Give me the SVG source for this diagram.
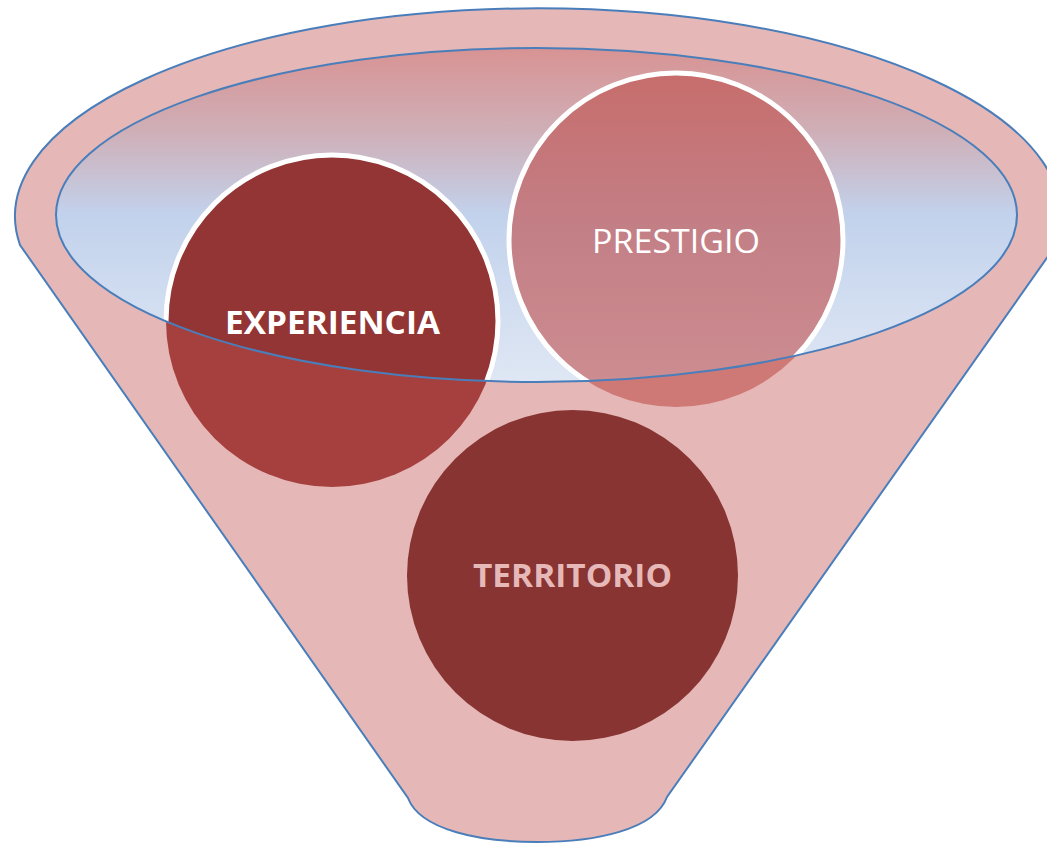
<svg xmlns="http://www.w3.org/2000/svg" width="1047" height="845" viewBox="0 0 1047 845">
<style>
.outline{stroke:#4A7EBB;stroke-width:2;}
.lbl{font-family:"Open Sans","Liberation Sans",sans-serif;text-anchor:middle;}
</style>
<defs>
<linearGradient id="liquid" gradientUnits="userSpaceOnUse" x1="0" y1="48" x2="0" y2="382">
<stop offset="0" stop-color="#D89393"/>
<stop offset="0.25" stop-color="#CFAFB7"/>
<stop offset="0.5" stop-color="#C2D2EC"/>
<stop offset="1" stop-color="#DFE7F4"/>
</linearGradient>
<linearGradient id="prestTop" gradientUnits="userSpaceOnUse" x1="0" y1="72" x2="0" y2="380">
<stop offset="0" stop-color="#C76D6C"/>
<stop offset="0.5" stop-color="#C37F86"/>
<stop offset="1" stop-color="#CC8C90"/>
</linearGradient>
<clipPath id="inner">
<ellipse cx="536.5" cy="215" rx="480.5" ry="167"/>
</clipPath>
</defs>
<g id="funnel">
<path class="outline" fill="#E5B8B7" d="M20,245 A523,208 0 1 1 1056,245 L667,797 C655,830 595,842 537,842 C480,842 420,830 408,798 Z"/>
<ellipse cx="536.5" cy="215" rx="480.5" ry="167" fill="url(#liquid)"/>
</g>
<g id="experiencia">
<circle cx="332" cy="321" r="166" fill="#A6403E"/>
<g clip-path="url(#inner)">
<circle cx="332" cy="321" r="166" fill="#943535" stroke="#FFFFFF" stroke-width="5"/>
</g>
</g>
<g id="prestigio">
<circle cx="676" cy="240" r="167" fill="#CF7977"/>
<g clip-path="url(#inner)">
<circle cx="676" cy="240" r="167" fill="url(#prestTop)" stroke="#FFFFFF" stroke-width="5"/>
</g>
</g>
<g id="territorio">
<circle cx="572.5" cy="575.5" r="165.5" fill="#873433"/>
</g>
<g id="rim">
<ellipse class="outline" cx="536.5" cy="215" rx="480.5" ry="167" fill="none"/>
</g>
<g id="labels">
<text class="lbl" x="332.5" y="334" font-size="33" font-weight="bold" fill="#FFFFFF" textLength="215" lengthAdjust="spacingAndGlyphs">EXPERIENCIA</text>
<text class="lbl" x="676" y="253" font-size="33" fill="#FFFFFF" textLength="168" lengthAdjust="spacingAndGlyphs">PRESTIGIO</text>
<text class="lbl" x="572.5" y="587" font-size="33" font-weight="bold" fill="#E6B9B8" textLength="199" lengthAdjust="spacingAndGlyphs">TERRITORIO</text>
</g>
</svg>
